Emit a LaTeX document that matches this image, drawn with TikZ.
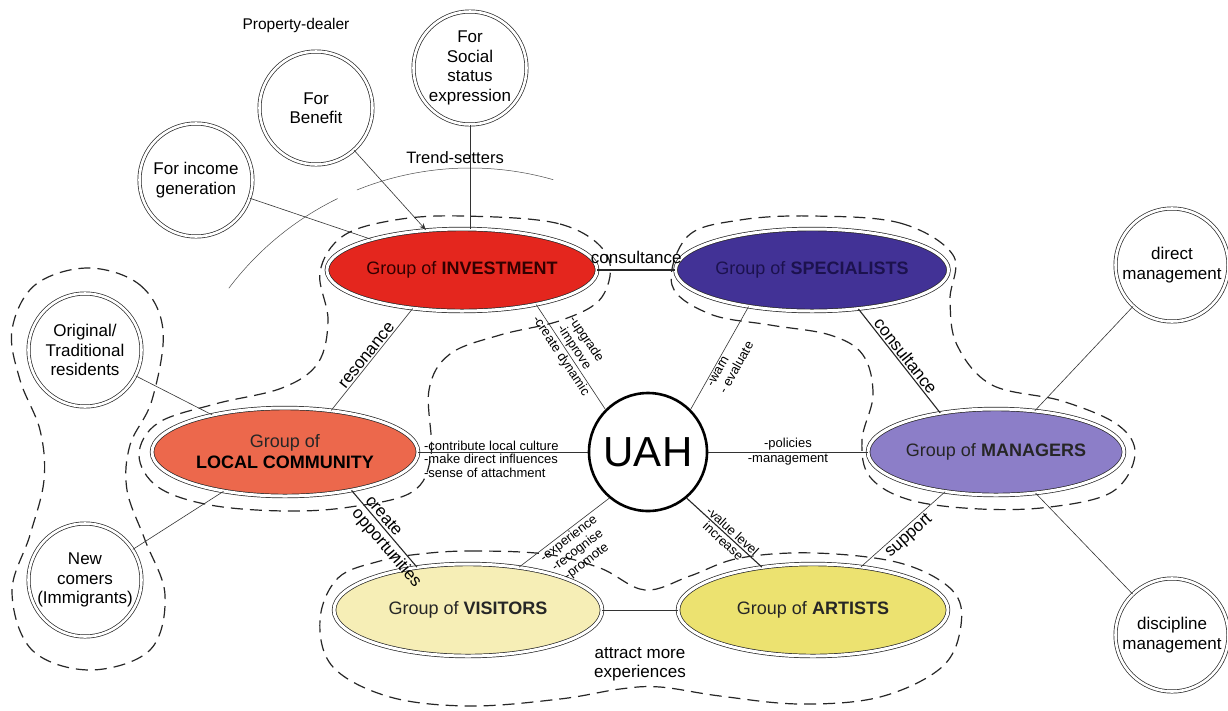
\documentclass[tikz,border=0pt]{standalone}
\usepackage{fontspec}
\setmainfont{Liberation Sans}
\usetikzlibrary{shapes.geometric,arrows.meta}
\definecolor{invred}{RGB}{228,38,30}
\definecolor{specblue}{RGB}{66,50,150}
\definecolor{spectext}{RGB}{28,18,78}
\definecolor{mgrpurple}{RGB}{140,126,200}
\definecolor{locorange}{RGB}{236,104,76}
\definecolor{visyellow}{RGB}{246,238,182}
\definecolor{artyellow}{RGB}{236,226,112}
\tikzset{
  grp/.style={ellipse, draw=black!85, double=white, double distance=3pt, line width=0.7pt, inner sep=0pt, align=center, font=\fontsize{18}{21}\selectfont},
  ring/.style={circle, draw=black!85, double=white, double distance=2.6pt, line width=0.7pt, inner sep=0pt, minimum size=113pt, align=center, font=\fontsize{17}{19.5}\selectfont},
  link/.style={draw=black!80, line width=0.6pt},
  boldlink/.style={draw=black!85, line width=1.1pt},
  grpdash/.style={draw=black!85, line width=1.2pt, dash pattern=on 12pt off 7pt},
  lbl/.style={font=\fontsize{17}{19}\selectfont, inner sep=1.5pt, align=center},
  slbl/.style={font=\fontsize{13}{14.5}\selectfont, inner sep=1.5pt, align=center},
}
\begin{document}
\begin{tikzpicture}[x=1pt,y=-1pt]
\fill[white] (0,0) rectangle (1228,710);
\useasboundingbox (0,0) rectangle (1228,710);

% dashed group outlines
\draw[grpdash] plot[smooth cycle, tension=0.6] coordinates {
 (88,268) (140,285) (163,330) (152,400) (130,445) (127,490) (145,540) (165,595) (150,650) (90,670) (32,650) (12,592) (30,535) (44,480) (40,430) (20,380) (12,330) (35,285)};
\draw[grpdash] plot[smooth cycle, tension=0.6] coordinates {
 (462,216) (560,224) (607,255) (602,297) (562,320) (500,335) (450,354) (429,390) (431,455) (412,492) (350,507) (285,511) (210,505) (158,487) (139,455) (158,423) (215,404) (282,388) (318,363) (328,320) (320,272) (343,236) (395,220)};
\draw[grpdash] plot[smooth cycle, tension=0.6] coordinates {
 (812,216) (900,223) (953,255) (950,300) (957,345) (992,385) (1062,401) (1118,425) (1135,455) (1112,492) (1050,507) (980,509) (910,500) (870,477) (862,440) (873,395) (863,355) (830,335) (770,325) (710,314) (672,285) (688,236) (740,220)};
\draw[grpdash] plot[smooth cycle, tension=0.6] coordinates {
 (420,554) (470,551) (545,554) (600,568) (645,590) (690,576) (740,558) (815,553) (900,563) (952,590) (961,625) (942,667) (880,697) (800,704) (720,696) (660,687) (620,689) (560,699) (470,706) (390,697) (333,667) (320,620) (338,578) (380,561)};

% trend-setters arcs
\draw[black!70, line width=0.5pt] (470,470) ++(-143:302) arc[start angle=-143, end angle=-116, radius=302];
\draw[black!70, line width=0.5pt] (470,470) ++(-112:302) arc[start angle=-112, end angle=-74, radius=302];

% group nodes
\node[grp, fill=invred, minimum width=256pt, minimum height=82pt] (inv) at (462,270) {\color{black!80!red}Group of \textbf{INVESTMENT}};
\node[grp, fill=specblue, minimum width=264pt, minimum height=82pt] (spec) at (812,270) {\color{spectext}Group of \textbf{SPECIALISTS}};
\node[grp, fill=mgrpurple, minimum width=256pt, minimum height=86pt] (mgr) at (996,452) {\color{black!85}Group of \textbf{MANAGERS}};
\node[grp, fill=locorange, minimum width=266pt, minimum height=88pt] (loc) at (285,452) {\color{black!85}Group of\\\textbf{LOCAL COMMUNITY}};
\node[grp, fill=visyellow, minimum width=268pt, minimum height=92pt] (vis) at (468,610) {\color{black!85}Group of \textbf{VISITORS}};
\node[grp, fill=artyellow, minimum width=270pt, minimum height=92pt] (art) at (813,610) {\color{black!85}Group of \textbf{ARTISTS}};
\node[circle, draw=black, line width=2.6pt, fill=white, minimum size=118pt, inner sep=0pt, font=\fontsize{42}{42}\selectfont] (uah) at (648,452) {UAH};

% outer circles
\node[ring] (ben) at (316,108) {For\\Benefit};
\node[ring] (soc) at (470,68) {For\\Social\\status\\expression};
\node[ring] (inc) at (196,180) {For income\\generation};
\node[ring] (orig) at (85,350) {Original/\\Traditional\\residents};
\node[ring] (newc) at (85,580) {New\\comers\\(Immigrants)};
\node[ring] (dir) at (1172,265) {direct\\management};
\node[ring] (disc) at (1172,635) {discipline\\management};

\node[lbl, font=\fontsize{15.5}{17}\selectfont] (pd) at (296,25) {Property-dealer};
\node[lbl, font=\fontsize{16.5}{18}\selectfont] (ts) at (455,158) {Trend-setters};

% connectors
\draw[link] (inc) -- (inv);
\draw[link, -{Stealth[length=7pt,width=5pt]}] (ben) -- (inv);
\draw[link] (soc) -- (soc |- inv.north);
\draw[link] (orig) -- (loc);
\draw[link] (newc) -- (loc);
\draw[link] (mgr) -- (dir);
\draw[link] (mgr) -- (disc);

\draw[boldlink] (inv) -- node[lbl, above=4pt]{consultance} (spec);
\draw[link] (loc.42) -- node[lbl, sloped, above]{resonance} (inv.218);
\draw[link] (inv.335) -- node[slbl, sloped, above, pos=0.45]{-upgrade\\-improve} node[slbl, sloped, below, pos=0.45]{-create dynamic} (uah.135);
\draw[link] (uah.45) -- node[slbl, sloped, below, align=left]{-warn\\- evaluate} (spec.210);
\draw[boldlink] (spec.320) -- node[lbl, sloped, above]{consultance} (mgr.145);
\draw[link] (loc) -- node[slbl, pos=0, anchor=south west, xshift=4pt]{-contribute local culture}
                    node[slbl, pos=0, anchor=north west, align=left, xshift=4pt]{-make direct influences\\-sense of attachment} (uah);
\draw[link] (uah) -- node[slbl, above]{-policies} node[slbl, below]{-management} (mgr);
\draw[boldlink] (loc.330) -- node[lbl, sloped, above=1pt, pos=0.4]{create} node[lbl, sloped, below=1pt, pos=0.66]{opportunities} (vis.140);
\draw[link] (vis.40) -- node[slbl, sloped, below, pos=0.5]{-experience\\-recognise\\-promote} (uah.230);
\draw[boldlink] (uah.310) -- node[slbl, sloped, above, pos=0.55]{-value level} node[slbl, sloped, below, pos=0.55]{increase} (art.140);
\draw[link] (art.42) -- node[lbl, sloped, below, pos=0.5]{support} (mgr.218);
\draw[link] (vis) -- node[lbl, below=36pt]{attract more\\experiences} (art);
\end{tikzpicture}
\end{document}
